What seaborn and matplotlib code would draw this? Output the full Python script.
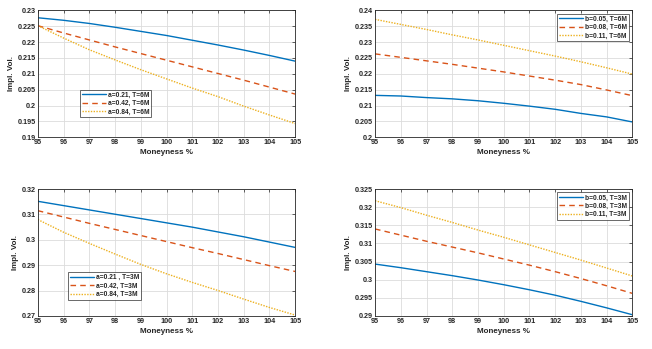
import matplotlib
matplotlib.use("Agg")
import matplotlib.pyplot as plt
import matplotlib.ticker as mticker
import numpy as np
import pandas as pd
import seaborn as sns

sns.set_theme(style="whitegrid")
plt.rcParams['font.family'] = ['Liberation Sans', 'DejaVu Sans']

moneyness = [95, 96, 97, 98, 99, 100, 101, 102, 103, 104, 105]

# top left: a varies, T=6M
a_6m_021 = [0.2277, 0.2269, 0.2259, 0.2247, 0.2234, 0.2221, 0.2206, 0.2191, 0.2175, 0.2158, 0.2140]
a_6m_042 = [0.2252, 0.2229, 0.2207, 0.2185, 0.2164, 0.2143, 0.2122, 0.2101, 0.2080, 0.2058, 0.2036]
a_6m_084 = [0.2252, 0.2213, 0.2176, 0.2144, 0.2113, 0.2084, 0.2055, 0.2028, 0.1998, 0.1970, 0.1943]

# top right: b varies, T=6M
b_6m_005 = [0.2132, 0.2130, 0.2125, 0.2121, 0.2115, 0.2107, 0.2098, 0.2088, 0.2075, 0.2064, 0.2048]
b_6m_008 = [0.2263, 0.2252, 0.2241, 0.2230, 0.2218, 0.2206, 0.2193, 0.2180, 0.2166, 0.2149, 0.2131]
b_6m_011 = [0.2372, 0.2356, 0.2340, 0.2323, 0.2307, 0.2290, 0.2273, 0.2256, 0.2238, 0.2219, 0.2199]

# bottom left: a varies, T=3M
a_3m_021 = [0.3152, 0.3135, 0.3118, 0.3101, 0.3084, 0.3067, 0.3050, 0.3031, 0.3012, 0.2991, 0.2970]
a_3m_042 = [0.3115, 0.3090, 0.3065, 0.3041, 0.3017, 0.2993, 0.2969, 0.2946, 0.2922, 0.2898, 0.2875]
a_3m_084 = [0.3080, 0.3030, 0.2986, 0.2944, 0.2903, 0.2866, 0.2832, 0.2800, 0.2766, 0.2733, 0.2703]

# bottom right: b varies, T=3M
b_3m_005 = [0.3043, 0.3033, 0.3022, 0.3011, 0.2999, 0.2986, 0.2972, 0.2957, 0.2940, 0.2922, 0.2903]
b_3m_008 = [0.3140, 0.3123, 0.3106, 0.3090, 0.3074, 0.3057, 0.3040, 0.3022, 0.3003, 0.2983, 0.2962]
b_3m_011 = [0.3218, 0.3199, 0.3178, 0.3158, 0.3137, 0.3117, 0.3096, 0.3075, 0.3054, 0.3032, 0.3010]

colors = ['#0072BD', '#D95319', '#EDB120']
styles = ['-', (0, (4, 3)), (0, (1, 1))]

panels = [
    ([a_6m_021, a_6m_042, a_6m_084],
     ['a=0.21, T=6M', 'a=0.42, T=6M', 'a=0.84, T=6M'],
     (0.19, 0.23), 0.005, 'lower left', (0.163, 0.156)),
    ([b_6m_005, b_6m_008, b_6m_011],
     ['b=0.05, T=6M', 'b=0.08, T=6M', 'b=0.11, T=6M'],
     (0.2, 0.24), 0.005, 'upper right', None),
    ([a_3m_021, a_3m_042, a_3m_084],
     ['a=0.21 , T=3M', 'a=0.42, T=3M', 'a=0.84, T=3M'],
     (0.27, 0.32), 0.01, 'lower left', (0.117, 0.126)),
    ([b_3m_005, b_3m_008, b_3m_011],
     ['b=0.05, T=3M', 'b=0.08, T=3M', 'b=0.11, T=3M'],
     (0.29, 0.325), 0.005, 'upper right', None),
]

fig, axes = plt.subplots(2, 2, figsize=(6.52, 3.49), dpi=100)
fig.subplots_adjust(left=0.058, right=0.97, top=0.97, bottom=0.095, wspace=0.31, hspace=0.41)

for ax, (series, labels, ylim, ystep, loc, anchor) in zip(axes.flat, panels):
    for vals, lab, c, ls in zip(series, labels, colors, styles):
        sns.lineplot(x=moneyness, y=vals, ax=ax, color=c, linestyle=ls,
                     linewidth=1.0, label=lab)
    ax.set_xlim(95, 105)
    ax.set_ylim(*ylim)
    ax.set_xticks(moneyness)
    ax.yaxis.set_major_locator(mticker.MultipleLocator(ystep))
    ax.yaxis.set_major_formatter(mticker.FormatStrFormatter('%g'))
    ax.set_facecolor('white')
    ax.grid(True, color='#dcdcdc', linewidth=0.6)
    for sp in ax.spines.values():
        sp.set_color('#262626')
        sp.set_linewidth(0.6)
    ax.tick_params(labelsize=5.2, length=2, width=0.5, pad=1.5,
                   direction='in', top=True, right=True, colors='#262626')
    for t in ax.get_xticklabels() + ax.get_yticklabels():
        t.set_fontweight('bold')
    ax.set_xlabel('Moneyness %', fontsize=5.8, labelpad=2, fontweight='bold', color='#262626')
    ax.set_ylabel('Impl. Vol.', fontsize=5.8, labelpad=2, fontweight='bold', color='#262626')
    if anchor is None:
        leg = ax.legend(loc=loc, fontsize=4.8, frameon=True, fancybox=False,
                        handlelength=3.6, borderpad=0.3, labelspacing=0.2,
                        handletextpad=0.3)
    else:
        leg = ax.legend(loc=loc, bbox_to_anchor=anchor, fontsize=4.8, frameon=True,
                        fancybox=False, handlelength=3.6, borderpad=0.3,
                        labelspacing=0.2, handletextpad=0.3, borderaxespad=0)
    leg.get_frame().set_edgecolor('#262626')
    leg.get_frame().set_linewidth(0.6)
    for t in leg.get_texts():
        t.set_fontweight('bold')

fig.savefig('out.png', dpi=100)
